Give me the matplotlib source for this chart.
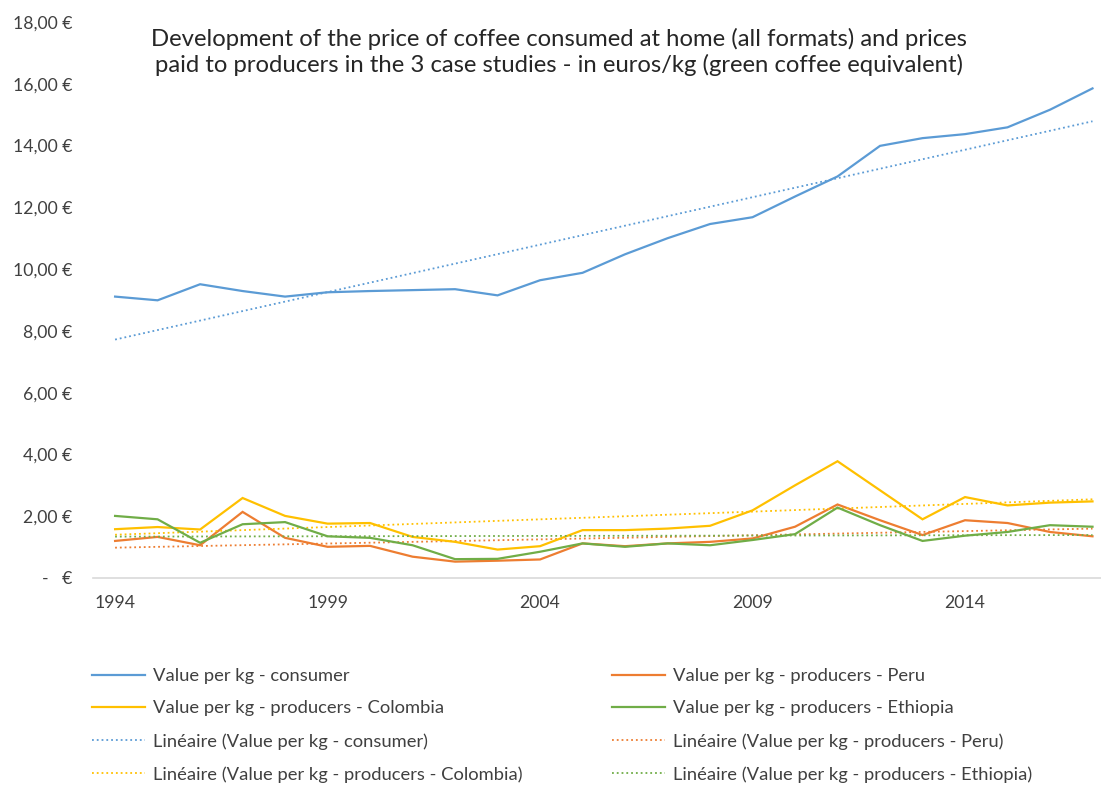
import numpy as np
import matplotlib.pyplot as plt
from matplotlib.ticker import FuncFormatter

# ============================================================================
# DATA (euros/kg green coffee equivalent)
# ============================================================================
years = list(range(1994, 2018))

consumer = [9.11, 8.99, 9.51, 9.29, 9.11, 9.25, 9.29, 9.32, 9.35, 9.15, 9.64, 9.88,
            10.48, 11.00, 11.46, 11.68, 12.35, 13.00, 13.99, 14.24, 14.37, 14.59,
            15.16, 15.85]
peru = [1.20, 1.33, 1.06, 2.14, 1.30, 1.01, 1.04, 0.69, 0.53, 0.56, 0.60, 1.12,
        1.03, 1.12, 1.17, 1.28, 1.66, 2.38, 1.87, 1.39, 1.87, 1.78, 1.49, 1.35]
colombia = [1.58, 1.65, 1.57, 2.59, 2.01, 1.76, 1.78, 1.33, 1.17, 0.92, 1.03, 1.55,
            1.55, 1.60, 1.69, 2.19, 3.00, 3.78, 2.84, 1.90, 2.62, 2.35, 2.44, 2.48]
ethiopia = [2.01, 1.90, 1.14, 1.74, 1.81, 1.35, 1.30, 1.06, 0.61, 0.62, 0.85, 1.12,
            1.01, 1.12, 1.06, 1.23, 1.42, 2.28, 1.71, 1.20, 1.37, 1.49, 1.71, 1.66]

series_names = ['consumer', 'producers - Peru', 'producers - Colombia', 'producers - Ethiopia']
series_values = [consumer, peru, colombia, ethiopia]
series_colors = ['#5B9BD5', '#ED7D31', '#FFC000', '#70AD47']

year_ticks = [1994, 1999, 2004, 2009, 2014]

title = ("Development of the price of coffee consumed at home (all formats) and prices\n"
         "paid to producers in the 3 case studies - in euros/kg (green coffee equivalent)")

# ============================================================================
# PLOT
# ============================================================================
plt.rcParams['font.family'] = ['Lato', 'DejaVu Sans']
W, H = 1101, 786
fig = plt.figure(figsize=(W / 100, H / 100), dpi=100)
ax = fig.add_axes([93 / W, 1 - 578 / H, (W - 93) / W, (578 - 22) / H])

x = np.array(years)
lines = {}
trends = {}
for name, vals, col in zip(series_names, series_values, series_colors):
    ln, = ax.plot(x, vals, color=col, linewidth=1.6, solid_joinstyle='miter',
                  label='Value per kg - ' + name)
    # linear trend line, as in the original "Linéaire" series
    coef = np.polyfit(x, vals, 1)
    tr, = ax.plot(x, np.polyval(coef, x), color=col, linewidth=1.3, linestyle=':',
                  label='Linéaire (Value per kg - ' + name + ')')
    lines[name] = ln
    trends[name] = tr

ax.set_xlim(1993.48, 2017.2)
ax.set_ylim(0, 18)
ax.set_yticks(np.arange(0, 19, 2))
ax.yaxis.set_major_formatter(FuncFormatter(
    lambda v, p: '-   €' if v == 0 else f'{v:,.2f} €'.replace('.', ',')))
ax.set_xticks(year_ticks)
ax.tick_params(axis='both', length=0, labelsize=12.7, colors='#404040')
ax.tick_params(axis='y', pad=15)
ax.tick_params(axis='x', pad=12)
for lbl in ax.get_yticklabels():
    lbl.set_horizontalalignment('right')

for side in ['top', 'right', 'left']:
    ax.spines[side].set_visible(False)
ax.spines['bottom'].set_color('#D9D9D9')
ax.spines['bottom'].set_linewidth(1.2)

fig.text(559 / W, 1 - 52 / H, title, ha='center', va='center', fontsize=17.2,
         color='#262626', linespacing=1.2)

# Legend: two columns, placed under the plot
left_handles = [lines['consumer'], lines['producers - Colombia'],
                trends['consumer'], trends['producers - Colombia']]
right_handles = [lines['producers - Peru'], lines['producers - Ethiopia'],
                 trends['producers - Peru'], trends['producers - Ethiopia']]
leg_kw = dict(frameon=False, fontsize=13.2, handlelength=2.9, handletextpad=0.45,
              labelspacing=0.9, borderaxespad=0, borderpad=0)
leg1 = fig.legend(handles=left_handles, loc='upper left',
                  bbox_to_anchor=(92 / W, 1 - 668 / H), **leg_kw)
leg2 = fig.legend(handles=right_handles, loc='upper left',
                  bbox_to_anchor=(612 / W, 1 - 668 / H), **leg_kw)
for leg in (leg1, leg2):
    for t in leg.get_texts():
        t.set_color('#404040')

fig.savefig('out.png', dpi=100)
